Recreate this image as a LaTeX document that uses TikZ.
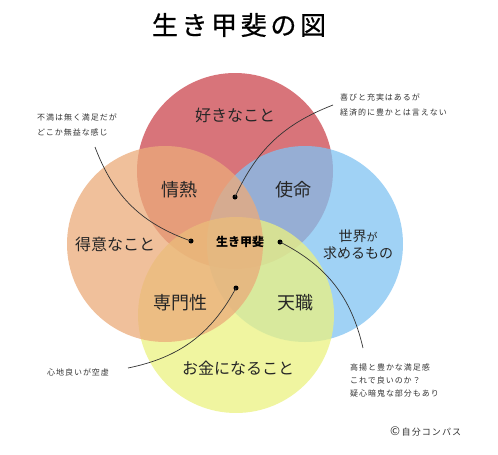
\documentclass[tikz,border=0pt]{standalone}
\usepackage{fontspec}
\newfontfamily\jp{Noto Sans CJK JP}
\newfontfamily\jpsp[LetterSpace=12]{Noto Sans CJK JP}
\newfontfamily\jptitle[LetterSpace=14,FakeBold=0.6]{Noto Sans CJK JP}
\definecolor{likered}{RGB}{203,70,78}
\definecolor{goodorange}{RGB}{235,171,122}
\definecolor{needblue}{RGB}{128,195,242}
\definecolor{paidyellow}{RGB}{235,242,128}
\tikzset{
  ring/.style={fill opacity=0.75,draw=none},
  area/.style={font=\jp\fontsize{16}{16}\selectfont,text=black!85},
  kanji/.style={font=\jp\fontsize{18}{18}\selectfont,text=black!85},
  note/.style={font=\jpsp\fontsize{8}{15}\selectfont,text=black!80,align=left,anchor=west,inner sep=0pt},
  dot/.style={circle,fill=black,inner sep=0pt,minimum size=5pt},
  lead/.style={black!80,line width=0.7pt}
}
\begin{document}
\begin{tikzpicture}[x=1pt,y=-1pt]
\useasboundingbox (0,0) rectangle (498,455);

\node[font=\jptitle\fontsize{26}{26}\selectfont] (title) at (239,25) {生き甲斐の図};

% four circles
\fill[ring,fill=likered] (235,171) circle[radius=98pt];
\fill[ring,fill=needblue] (305,244) circle[radius=98pt];
\fill[ring,fill=paidyellow] (236,315) circle[radius=98pt];
\fill[ring,fill=goodorange] (165,244) circle[radius=98pt];

% labels
\node[area] (like) at (235,115) {好きなこと};
\node[area] (good) at (115,244) {得意なこと};
\node[area] (paid) at (238,368) {お金になること};
\node[font=\jp\fontsize{14}{17}\selectfont,align=center,text=black!85] (need) at (358,245) {世界{\fontsize{11}{11}\selectfont が}\\求めるもの};
\node[kanji] (passion) at (179,190) {情熱};
\node[kanji] (mission) at (293,190) {使命};
\node[kanji] (profession) at (180,303) {専門性};
\node[kanji] (vocation) at (295,303) {天職};
\node[font=\jp\bfseries\fontsize{12}{12}\selectfont] (ikigai) at (240,242) {生き甲斐};

% dots
\node[dot] (dotL) at (191,241) {};
\node[dot] (dotT) at (235,197) {};
\node[dot] (dotR) at (280,242) {};
\node[dot] (dotB) at (236,288) {};

% notes
\node[note] (noteTL) at (37,124.5) {不満は無く満足だが\\どこか無益な感じ};
\node[note] (noteTR) at (340,104.5) {喜びと充実はあるが\\経済的に豊かとは言えない};
\node[note] (noteBL) at (47,372) {心地良いが空虚};
\node[note,font=\jpsp\fontsize{8}{13}\selectfont] (noteBR) at (350,380) {高揚と豊かな満足感\\これで良いのか？\\疑心暗鬼な部分もあり};
\node[note,font=\jpsp\fontsize{9}{9}\selectfont] (copy) at (390,431) {{\fontsize{12}{12}\selectfont ©}\,自分コンパス};

\coordinate (endTL) at (95,147);
\coordinate (endTR) at (333,105);
\coordinate (endBL) at (128,368);
\coordinate (endBR) at (363,348);

\draw[lead] (endTL) to[bend right=25] (dotL.center);
\draw[lead] (dotT.center) to[bend left=22] (endTR);
\draw[lead] (dotB.center) to[bend left=25] (endBL);
\draw[lead] (dotR.center) to[bend left=25] (endBR);
\end{tikzpicture}
\end{document}
